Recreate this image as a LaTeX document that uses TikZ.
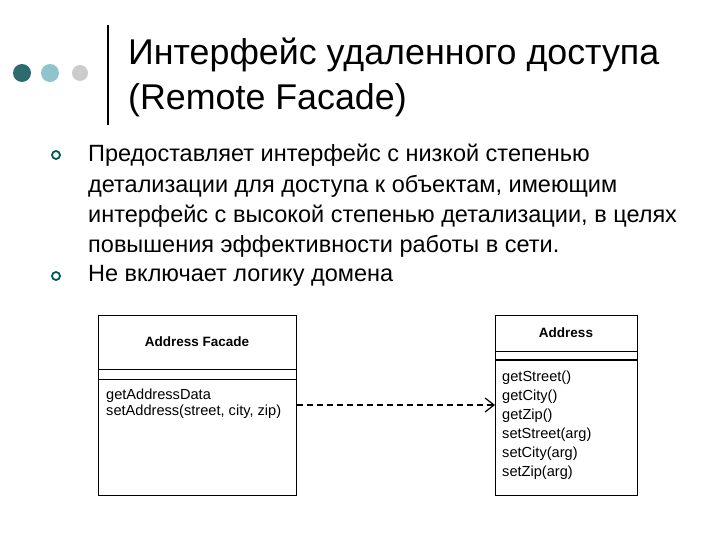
\documentclass[tikz,border=0pt]{standalone}
\usepackage{fontspec}
\setmainfont{Liberation Sans}
\usetikzlibrary{arrows.meta}
\begin{document}
\begin{tikzpicture}[x=1pt,y=-1pt,
  title/.style={anchor=west,inner xsep=0pt,font=\fontsize{35.8}{40}\selectfont},
  body/.style={anchor=west,inner xsep=0pt,font=\fontsize{23.5}{27}\selectfont},
  meth/.style={anchor=west,inner xsep=0pt,font=\fontsize{14.6}{17}\selectfont},
  cls/.style={font=\bfseries\fontsize{13.5}{16}\selectfont},
  box/.style={draw,line width=1pt},
  bul/.style={draw=teal!70!black,line width=1.8pt,circle,inner sep=0pt,minimum size=8pt}]
\useasboundingbox (0,0) rectangle (720,540);
\fill[fill={rgb,255:red,46;green,107;blue,110}] (22,73) circle (9);
\fill[fill={rgb,255:red,143;green,196;blue,204}] (50,73) circle (9);
\fill[fill={rgb,255:red,204;green,204;blue,204}] (80,73) circle (8);
\draw[line width=2pt] (108,25) -- (108,125);
\node[title] (t1) at (128,55) {Интерфейс удаленного доступа};
\node[title] (t2) at (128,100) {(Remote Facade)};
\node[bul] (b1) at (56,155) {};
\node[bul] (b2) at (56,276) {};
\node[body] (p1) at (88,155) {Предоставляет интерфейс с низкой степенью};
\node[body] (p2) at (88,186) {детализации для доступа к объектам, имеющим};
\node[body] (p3) at (88,216) {интерфейс с высокой степенью детализации, в целях};
\node[body] (p4) at (88,246) {повышения эффективности работы в сети.};
\node[body] (p5) at (88,276) {Не включает логику домена};
% left class
\draw[box] (98,315) rectangle (296,495);
\draw[line width=1pt] (98,369) -- (296,369) (98,379) -- (296,379);
\node[cls] (lf) at (197,342) {Address Facade};
\node[meth] (m1) at (106,396) {getAddressData};
\node[meth] (m2) at (106,412) {setAddress(street, city, zip)};
% right class
\draw[box] (495,315) rectangle (637,495);
\draw[line width=1pt] (495,351) -- (637,351);
\draw[line width=2pt] (495,360) -- (637,360);
\node[cls] (ra) at (566,333) {Address};
\foreach \t [count=\i] in {getStreet(),getCity(),getZip(),setStreet(arg),setCity(arg),setZip(arg)}
  \node[meth] (r\i) at (502,359+19*\i) {\t};
\coordinate (s) at (297,405);
\coordinate (e) at (495,405);
\draw[line width=1.2pt,dash pattern=on 6pt off 4pt,-{Straight Barb[length=9pt,width=14pt]}] (s) -- (e);
\end{tikzpicture}
\end{document}
